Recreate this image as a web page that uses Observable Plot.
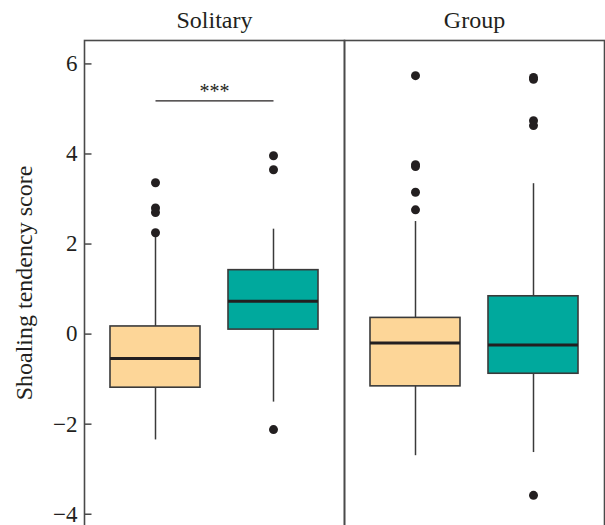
<!DOCTYPE html>
<html>
<head>
<meta charset="utf-8">
<script src="https://cdn.jsdelivr.net/npm/d3@7"></script>
<script src="https://cdn.jsdelivr.net/npm/@observablehq/plot@0.6"></script>
<style>
  html, body { margin: 0; padding: 0; background: #fff; overflow: hidden; }
  #chart { width: 605px; }
</style>
</head>
<body>
<div id="chart"></div>
<script>
// Social context facets and the two treatments shown in each
const conditions = ["Solitary", "Group"];
const treatments = ["A", "B"];
const fillColors = ["#FDD698", "#00A99D"];

// Box summaries, one entry per (condition, treatment)
const boxCondition = ["Solitary", "Solitary", "Group", "Group"];
const boxTreatment = ["A", "B", "A", "B"];
const whiskerLow  = [-2.35, -1.51, -2.70, -2.63];
const q1          = [-1.19,  0.10, -1.16, -0.88];
const median      = [-0.54,  0.73, -0.20, -0.24];
const q3          = [ 0.17,  1.42,  0.36,  0.84];
const whiskerHigh = [ 2.20,  2.33,  2.50,  3.34];
const outliers = [
  [3.36, 2.80, 2.70, 2.25],
  [3.96, 3.65, -2.12],
  [5.74, 3.76, 3.72, 3.15, 2.76],
  [5.70, 5.66, 4.74, 4.63, -3.58]
];

// Significance bracket between the two Solitary boxes
const sigCondition = "Solitary";
const sigFrom = "A";
const sigTo = "B";
const sigValue = 5.18;
const sigLabel = "***";

const yTicks = [-4, -2, 0, 2, 4, 6];
const yLabel = "Shoaling tendency score";

const boxes = boxCondition.map((c, i) => ({
  condition: c, treatment: boxTreatment[i],
  lo: whiskerLow[i], q1: q1[i], med: median[i], q3: q3[i], hi: whiskerHigh[i]
}));
const outlierPoints = boxes.flatMap((b, i) =>
  outliers[i].map(v => ({condition: b.condition, treatment: b.treatment, value: v})));
const sig = [{condition: sigCondition, from: sigFrom, to: sigTo, value: sigValue, label: sigLabel}];

const ink = "#231f20";
const font = "Liberation Serif, Times New Roman, serif";

const chart = Plot.plot({
  width: 605,
  height: 525,
  marginLeft: 83,
  marginRight: 1,
  marginTop: 40,
  marginBottom: 0,
  style: {fontFamily: font, fontSize: "23px", color: ink, background: "#fff"},
  fx: {domain: conditions, padding: 0},
  x: {domain: treatments, paddingInner: 0.24, paddingOuter: 0.22, axis: null},
  y: {domain: [-4.25, 6.52]},
  color: {domain: treatments, range: fillColors},
  marks: [
    // panel borders; the lower edge runs past the bottom of the figure
    Plot.frame({stroke: "#4a4a4a", strokeWidth: 1.6, insetBottom: -8}),
    Plot.axisFx({anchor: "top", tickSize: 0, tickPadding: 13, fontSize: 24, label: null}),
    Plot.axisY(yTicks, {tickSize: 0, tickPadding: 7, fontSize: 23, label: null}),
    // inward tick marks on the left edge
    Plot.ruleY(yTicks, {y: d => d, fx: () => conditions[0], insetRight: 252.5, stroke: "#4a4a4a", strokeWidth: 1.5}),
    Plot.text([yLabel], {
      fx: () => conditions[0], text: d => d, frameAnchor: "left", rotate: -90,
      textAnchor: "middle", lineAnchor: "bottom", dx: -53, fontSize: 24, fill: ink
    }),
    // whiskers
    Plot.ruleX(boxes, {fx: "condition", x: "treatment", y1: "q3", y2: "hi", stroke: "#3a3a3a", strokeWidth: 1.5}),
    Plot.ruleX(boxes, {fx: "condition", x: "treatment", y1: "lo", y2: "q1", stroke: "#3a3a3a", strokeWidth: 1.5}),
    // interquartile boxes
    Plot.barY(boxes, {fx: "condition", x: "treatment", y1: "q1", y2: "q3", fill: "treatment", stroke: "#3a3a3a", strokeWidth: 1.6}),
    // medians
    Plot.tickY(boxes, {fx: "condition", x: "treatment", y: "med", stroke: ink, strokeWidth: 3}),
    // outliers
    Plot.dot(outlierPoints, {fx: "condition", x: "treatment", y: "value", r: 4.5, fill: ink, stroke: "none"}),
    // significance bracket
    Plot.link(sig, {fx: "condition", x1: "from", x2: "to", y1: "value", y2: "value", stroke: ink, strokeWidth: 1.3}),
    Plot.text(sig, {fx: "condition", y: "value", text: "label", frameAnchor: "middle", lineAnchor: "bottom", dy: -3, fontSize: 20, fill: ink})
  ]
});
document.getElementById("chart").append(chart);
</script>
</body>
</html>
